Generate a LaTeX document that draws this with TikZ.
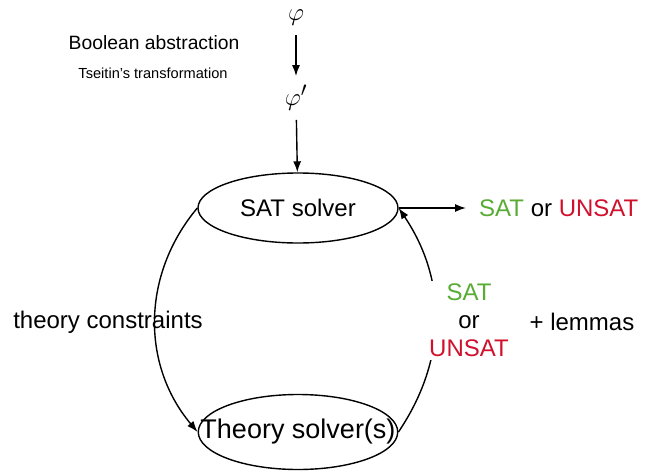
\documentclass[tikz,border=0pt]{standalone}
\usepackage{fontspec}
\setmainfont{Liberation Sans}
\usepackage{xcolor}
\usepackage{tikz}
\usetikzlibrary{arrows.meta,shapes.geometric}

\definecolor{satgreen}{RGB}{88,172,52}
\definecolor{unsatred}{RGB}{208,16,44}

\begin{document}
\begin{tikzpicture}[x=1pt,y=-1pt,
    solver/.style={draw,ellipse,line width=1.4pt,minimum width=200pt,minimum height=70pt,inner sep=0pt,font=\fontsize{24}{28}\selectfont},
    txt/.style={font=\fontsize{24}{28}\selectfont,inner sep=1pt},
    formula/.style={font=\fontsize{28}{32}\selectfont,inner sep=9pt},
    flow/.style={line width=1.4pt,-{Latex[length=11pt,width=8pt]}}]
    \useasboundingbox (0,0) rectangle (662,472);

    \node[formula] (phi) at (296,18) {$\varphi$};
    \node[formula] (phip) at (296,98) {$\varphi'$};
    \node[font=\fontsize{19.3}{22}\selectfont] (bool) at (154,43) {Boolean abstraction};
    \node[font=\fontsize{14.6}{17}\selectfont] (tseitin) at (153,73) {Tseitin's transformation};

    \node[solver] (sat) at (298,208) {SAT solver};
    \node[solver,font=\fontsize{27}{30}\selectfont,inner xsep=-27pt,minimum width=197pt,minimum height=75pt] (theory) at (298,432) {Theory solver(s)};

    \coordinate (out) at (466,208);
    \node[txt,anchor=west] (result) at (478,208) {\textcolor{satgreen}{SAT} or \textcolor{unsatred}{UNSAT}};

    \draw[flow] (phi) -- (phip);
    \draw[flow] (phip) -- (sat);
    \draw[flow] (sat) -- (out);

    \draw[flow] (sat.west) to[bend right=40] (theory.west);
    \draw[flow] (theory.east) to[bend right=34] (sat.east);

    \node[txt,align=center,fill=white,inner sep=3pt] (answer) at (469,320)
      {\textcolor{satgreen}{SAT}\\or\\\textcolor{unsatred}{UNSAT}};
    \node[txt] (lemmas) at (582,322) {+ lemmas};
    \node[txt] (constr) at (108,322) {theory constraints};
\end{tikzpicture}
\end{document}
